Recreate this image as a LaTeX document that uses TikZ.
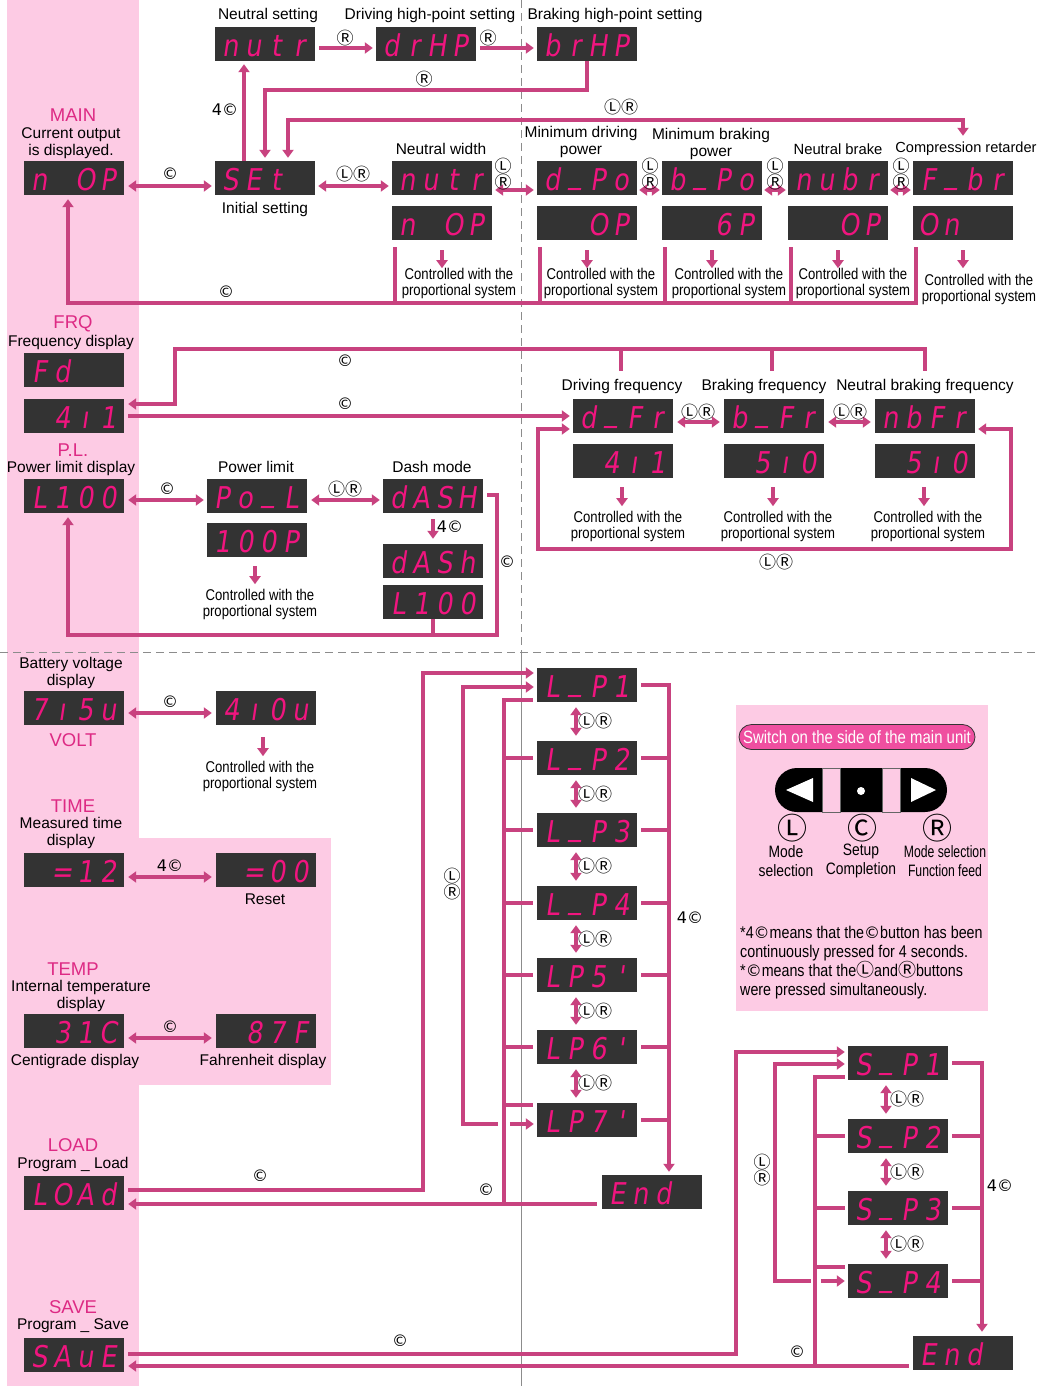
\documentclass[tikz,border=0pt]{standalone}
\usepackage{fontspec}
\setmainfont{Liberation Sans}
\newfontfamily\narrowf[FakeStretch=0.84]{Liberation Sans}
\newfontfamily\narrowerf[FakeStretch=0.74]{Liberation Sans}
\newfontfamily\symf{DejaVu Sans}
\newfontfamily\circf{Noto Sans CJK JP}
\newfontfamily\segf[FakeSlant=0.15,FakeStretch=0.85]{DejaVu Sans}
\usetikzlibrary{arrows.meta,calc}
\definecolor{pinkbg}{HTML}{FDCBE4}
\definecolor{lc}{HTML}{C8427F}
\definecolor{dbg}{HTML}{333333}
\definecolor{segc}{HTML}{F0157F}
\definecolor{ttlc}{HTML}{DD2A84}
\definecolor{pillc}{HTML}{EF4FA0}
\newcommand\dg[4]{\makebox[23pt]{#1}\makebox[23pt]{#2}\makebox[23pt]{#3}\makebox[23pt]{#4}}
\newcommand\us{\raisebox{0.22em}{\_}}
\newcommand\Lc{{\circf\fontsize{17}{13}\selectfont Ⓛ}}
\newcommand\Rc{{\circf\fontsize{17}{13}\selectfont Ⓡ}}
\newcommand\sy[1]{{\symf\fontsize{16}{14}\selectfont #1}}
\newcommand\syc[1]{{\circf\fontsize{18}{14}\selectfont #1}}
\pgfdeclarelayer{bg}
\pgfsetlayers{bg,main}
\begin{document}
\begin{tikzpicture}[x=1pt,y=-1pt,
  disp/.style={fill=dbg, minimum width=100pt, minimum height=34pt, inner sep=0pt, text=segc,
    font=\segf\fontsize{30}{30}\selectfont, text height=26pt, text depth=1pt},
  lbl/.style={font=\fontsize{15.5}{17}\selectfont, inner sep=0pt, align=center},
  ttl/.style={font=\fontsize{18.5}{18.5}\selectfont, text=ttlc, inner sep=0pt},
  ctl/.style={font=\narrowf\fontsize{15.6}{16}\selectfont, inner sep=0pt, align=center},
  key/.style={font=\symf\fontsize{16}{13}\selectfont, inner sep=0pt, align=center},
  conn/.style={draw=lc, line width=4pt},
  arr/.style={conn, -{Triangle[length=8pt,width=11pt]}},
  darr/.style={conn, {Triangle[length=8pt,width=11pt]}-{Triangle[length=8pt,width=11pt]}},
  larr/.style={conn, {Triangle[length=8pt,width=11pt]}-}
]
\useasboundingbox (0,0) rectangle (1039,1386);

% ---------------- nodes: top section
\node[disp] (nutrS) at (265,44) {\dg{n}{u}{t}{r}};
\node[disp] (drhp) at (426,44) {\dg{d}{r}{H}{P}};
\node[disp] (brhp) at (587,44) {\dg{b}{r}{H}{P}};
\node[lbl] (lNS) at (268,15) {Neutral setting};
\node[lbl] (lDH) at (430,15) {Driving high-point setting};
\node[lbl] (lBH) at (615,15) {Braking high-point setting};

\node[ttl] (tMain) at (73,115) {MAIN};
\node[lbl] (lMain) at (71,143) {Current output\\is displayed.};
\node[disp] (mainD) at (74,178) {\dg{n}{}{O}{P}};
\node[disp] (setD) at (265,178) {\dg{S}{E}{t}{}};
\node[lbl] (lInit) at (265,209) {Initial setting};

\node[lbl] (lNW) at (441,149) {Neutral width};
\node[disp] (nw1) at (442,178) {\dg{n}{u}{t}{r}};
\node[disp] (nw2) at (442,223) {\dg{n}{}{O}{P}};
\node[lbl] (lMD) at (581,142) {Minimum driving\\power};
\node[disp] (mdp1) at (587,178) {\dg{d}{\us}{P}{o}};
\node[disp] (mdp2) at (587,223) {\dg{}{}{O}{P}};
\node[lbl] (lMB) at (711,144) {Minimum braking\\power};
\node[disp] (mbp1) at (712,178) {\dg{b}{\us}{P}{o}};
\node[disp] (mbp2) at (712,223) {\dg{}{}{6}{P}};
\node[lbl, font=\fontsize{14.8}{16}\selectfont] (lNB) at (838,149) {Neutral brake};
\node[disp] (nb1) at (838,178) {\dg{n}{u}{b}{r}};
\node[disp] (nb2) at (838,223) {\dg{}{}{O}{P}};
\node[lbl, font=\fontsize{14.6}{16}\selectfont] (lCR) at (966,149) {Compression retarder};
\node[disp] (cr1) at (963,178) {\dg{F}{\us}{b}{r}};
\node[disp] (cr2) at (963,223) {\dg{O}{n}{}{}};

\node[ctl] (c1t) at (459,283) {Controlled with the\\proportional system};
\node[ctl] (c2t) at (601,283) {Controlled with the\\proportional system};
\node[ctl] (c3t) at (729,283) {Controlled with the\\proportional system};
\node[ctl] (c4t) at (853,283) {Controlled with the\\proportional system};
\node[ctl] (c5t) at (979,289) {Controlled with the\\proportional system};

% ---------------- FRQ
\node[ttl] (tFRQ) at (73,324) {FRQ};
\node[lbl] (lFRQ) at (71,342) {Frequency display};
\node[disp] (fdD) at (74,370) {\dg{F}{d}{}{}};
\node[disp] (f41) at (74,416) {\dg{}{4}{ı}{1}};
\node[lbl] (dfrL) at (622,386) {Driving frequency};
\node[lbl] (bfrL) at (764,386) {Braking frequency};
\node[lbl] (nbfL) at (925,386) {Neutral braking frequency};
\node[disp] (dfr1) at (623,416) {\dg{d}{\us}{F}{r}};
\node[disp] (dfr2) at (623,461) {\dg{}{4}{ı}{1}};
\node[disp] (bfr1) at (774,416) {\dg{b}{\us}{F}{r}};
\node[disp] (bfr2) at (774,461) {\dg{}{5}{ı}{0}};
\node[disp] (nbf1) at (925,416) {\dg{n}{b}{F}{r}};
\node[disp] (nbf2) at (925,461) {\dg{}{5}{ı}{0}};
\node[ctl] (c6t) at (628,526) {Controlled with the\\proportional system};
\node[ctl] (c7t) at (778,526) {Controlled with the\\proportional system};
\node[ctl] (c8t) at (928,526) {Controlled with the\\proportional system};

% ---------------- P.L.
\node[ttl] (tPL) at (73,450) {P.L.};
\node[lbl] (lPL) at (71,468) {Power limit display};
\node[disp] (pl1) at (74,496) {\dg{L}{1}{0}{0}};
\node[lbl] (lPow) at (256,467) {Power limit};
\node[disp] (pol) at (257,496) {\dg{P}{o}{\us}{L}};
\node[disp] (p100) at (257,540) {\dg{1}{0}{0}{P}};
\node[ctl] (c9t) at (260,604) {Controlled with the\\proportional system};
\node[lbl] (lDash) at (432,467) {Dash mode};
\node[disp] (dash1) at (433,496) {\dg{d}{A}{S}{H}};
\node[disp] (dash2) at (433,561) {\dg{d}{A}{S}{h}};
\node[disp] (dash3) at (433,602) {\dg{L}{1}{0}{0}};

% ---------------- lower left
\node[lbl] (lBat) at (71,673) {Battery voltage\\display};
\node[disp] (v1) at (74,708) {\dg{7}{ı}{5}{u}};
\node[disp] (v2) at (266,708) {\dg{4}{ı}{0}{u}};
\node[ttl] (tVolt) at (73,740) {VOLT};
\node[ctl] (c10t) at (260,776) {Controlled with the\\proportional system};
\node[ttl] (tTime) at (73,806) {TIME};
\node[lbl] (lTime) at (71,833) {Measured time\\display};
\node[disp] (t1) at (74,870) {\dg{}{=}{1}{2}};
\node[disp] (t2) at (266,870) {\dg{}{=}{0}{0}};
\node[lbl] (lReset) at (265,899) {Reset};
\node[ttl] (tTemp) at (73,969) {TEMP};
\node[lbl] (lTemp) at (81,996) {Internal temperature\\display};
\node[disp] (cd1) at (74,1031) {\dg{}{3}{1}{C}};
\node[disp] (cd2) at (266,1031) {\dg{}{8}{7}{F}};
\node[lbl] (lCen) at (75,1061) {Centigrade display};
\node[lbl] (lFah) at (263,1061) {Fahrenheit display};
\node[ttl] (tLoad) at (73,1145) {LOAD};
\node[lbl] (lLoad) at (73,1164) {Program \_ Load};
\node[disp] (ld) at (74,1193) {\dg{L}{O}{A}{d}};
\node[ttl] (tSave) at (73,1307) {SAVE};
\node[lbl] (lSave) at (73,1326) {Program \_ Save};
\node[disp] (sv) at (74,1355) {\dg{S}{A}{u}{E}};

% ---------------- L_P column
\node[disp] (lp1) at (587,685) {\dg{L}{\us}{P}{1}};
\node[disp] (lp2) at (587,758) {\dg{L}{\us}{P}{2}};
\node[disp] (lp3) at (587,830) {\dg{L}{\us}{P}{3}};
\node[disp] (lp4) at (587,903) {\dg{L}{\us}{P}{4}};
\node[disp] (lp5) at (587,975) {\dg{L}{P}{5}{'}};
\node[disp] (lp6) at (587,1047) {\dg{L}{P}{6}{'}};
\node[disp] (lp7) at (587,1120) {\dg{L}{P}{7}{'}};
\node[disp] (end1) at (652,1192) {\dg{E}{n}{d}{}};

% ---------------- S_P column
\node[disp] (sp1) at (898,1063) {\dg{S}{\us}{P}{1}};
\node[disp] (sp2) at (898,1136) {\dg{S}{\us}{P}{2}};
\node[disp] (sp3) at (898,1208) {\dg{S}{\us}{P}{3}};
\node[disp] (sp4) at (898,1281) {\dg{S}{\us}{P}{4}};
\node[disp] (end2) at (963,1353) {\dg{E}{n}{d}{}};

% ---------------- backgrounds
\begin{pgfonlayer}{bg}
\fill[pinkbg] (7,0) rectangle (139,1386);
\fill[pinkbg] (139,838) rectangle (331,1085);
\fill[pinkbg] (736,705) rectangle (988,1011);
\draw[black!45, line width=1pt, dash pattern=on 8pt off 5pt] (521,0) -- (521,652);
\draw[black!45, line width=1pt] (521,652) -- (521,1386);
\draw[black!45, line width=1pt, dash pattern=on 8pt off 5pt] (0,652) -- (1039,652);
\end{pgfonlayer}

% ---------------- connectors: top
\draw[arr] ($(nutrS.east)+(4,4)$) -- ($(drhp.west)+(-3,4)$);
\node[key] (k1) at (345,38) {\Rc};
\draw[arr] ($(drhp.east)+(4,4)$) -- ($(brhp.west)+(-3,4)$);
\node[key] (k2) at (488,38) {\Rc};
\draw[arr] (brhp.south) -- ++(0,29) -| ($(setD.north)+(0,-3)$);
\node[key] (k3) at (424,79) {\Rc};
\draw[darr] ($(setD.north)+(23,-3)$) |- ($(cr1.north)+(0,-41)$) -- ($(cr1.north)+(0,-25)$);
\node[key] (k4) at (621,107) {\Lc\Rc};
\draw[arr] ($(setD.north)+(-21,0)$) -- ($(nutrS.south)+(-21,3)$);
\node[key] (k5) at (225,110) {4©};
\draw[darr] ($(mainD.east)+(4,8)$) -- ($(setD.west)+(-3,8)$);
\node[key] (k6) at (170,174) {©};
\draw[darr] ($(setD.east)+(3,8)$) -- ($(nw1.west)+(-3,8)$);
\node[key] (k7) at (353,174) {\Lc\Rc};
\draw[darr] ($(nw1.east)+(3,12)$) -- ($(mdp1.west)+(-3,12)$);
\node[key] (k8) at (503,174) {\Lc\\\Rc};
\draw[darr] ($(mdp1.east)+(2,12)$) -- ($(mbp1.west)+(-2,12)$);
\node[key] (k9) at (650,174) {\Lc\\\Rc};
\draw[darr] ($(mbp1.east)+(2,12)$) -- ($(nb1.west)+(-2,12)$);
\node[key] (k10) at (775,174) {\Lc\\\Rc};
\draw[darr] ($(nb1.east)+(2,12)$) -- ($(cr1.west)+(-2,12)$);
\node[key] (k11) at (901,174) {\Lc\\\Rc};
\foreach \p in {nw2,mdp2,mbp2,nb2,cr2}{
  \draw[arr] ($(\p.south)+(0,10)$) -- ++(0,18);
}
\draw[arr] ($(cr2.south west)+(3,7)$) |- ($(mainD.south)+(-6,108)$) -- ($(mainD.south)+(-6,4)$);
\foreach \p in {nw2,mdp2,mbp2,nb2}{
  \draw[conn] ($(\p.south west)+(3,7)$) -- ++(0,56);
}
\node[key] (k12) at (226,292) {©};

% ---------------- connectors: FRQ
\coordinate (fq1) at (175,349);
\draw[arr] ($(nbf1.north)+(0,-28)$) |- (fq1) |- ($(f41.east)+(4,-12)$);
\draw[conn] ($(dfr1.north)+(-2,-28)$) -- ++(0,-22);
\draw[conn] ($(bfr1.north)+(-2,-28)$) -- ++(0,-22);
\node[key] (k13) at (345,361) {©};
\draw[arr] ($(f41.east)+(4,0)$) -- ($(dfr1.west)+(-3,0)$);
\node[key] (k14) at (345,404) {©};
\draw[darr] ($(dfr1.east)+(4,6)$) -- ($(bfr1.west)+(-4,6)$);
\node[key] (k15) at (698,412) {\Lc\Rc};
\draw[darr] ($(bfr1.east)+(4,6)$) -- ($(nbf1.west)+(-4,6)$);
\node[key] (k16) at (850,412) {\Lc\Rc};
\draw[darr] ($(dfr1.west)+(-3,13)$) -- ($(dfr1.west)+(-35,13)$) |- (1011,549) |- ($(nbf1.east)+(3,13)$);
\node[key] (k17) at (776,562) {\Lc\Rc};
\foreach \p in {dfr2,bfr2,nbf2}{
  \draw[arr] ($(\p.south)+(-1,9)$) -- ++(0,19);
}

% ---------------- connectors: P.L.
\draw[darr] ($(pl1.east)+(4,4)$) -- ($(pol.west)+(-3,4)$);
\node[key] (k18) at (167,489) {©};
\draw[darr] ($(pol.east)+(4,4)$) -- ($(dash1.west)+(-3,4)$);
\node[key] (k19) at (345,489) {\Lc\Rc};
\draw[arr] ($(dash1.south)+(0,6)$) -- ($(dash2.north)+(0,-5)$);
\node[key] (k20) at (450,527) {4©};
\draw[arr] ($(dash1.east)+(4,-1)$) -| (497,635) -| ($(pl1.south)+(-6,4)$);
\draw[conn] (dash3.south) -- ++(0,16);
\node[key] (k21) at (507,562) {©};
\draw[arr] ($(p100.south)+(-2,9)$) -- ++(0,18);

% ---------------- connectors: lower left
\draw[darr] ($(v1.east)+(4,5)$) -- ($(v2.west)+(-4,5)$);
\node[key] (k22) at (170,702) {©};
\draw[arr] ($(v2.south)+(-3,12)$) -- ++(0,19);
\draw[darr] ($(t1.east)+(4,7)$) -- ($(t2.west)+(-4,7)$);
\node[key] (k23) at (170,866) {4©};
\draw[darr] ($(cd1.east)+(4,7)$) -- ($(cd2.west)+(-4,7)$);
\node[key] (k24) at (170,1027) {©};

% ---------------- connectors: L_P
\foreach \a/\b in {lp1/lp2,lp2/lp3,lp3/lp4,lp4/lp5,lp5/lp6,lp6/lp7}{
  \draw[darr] ($(\a.south)+(-11,5)$) -- ($(\b.north)+(-11,-5)$);
  \node[key] (k\a) at ($(\a.south)!0.5!(\b.north)+(8,0)$) {\Lc\Rc};
}
\draw[arr] ($(lp1.east)+(4,0)$) -| ($(end1.north)+(17,-3)$);
\foreach \p in {lp2,lp3,lp4,lp5,lp6,lp7}{
  \draw[conn] ($(\p.east)+(4,0)$) -- ++(28,0);
}
\node[key] (k25) at (690,918) {4©};
\draw[conn] ($(lp1.west)+(-4,15)$) -| ($(end1.west)+(-98,12)$);
\foreach \p in {lp2,lp3,lp4,lp5,lp6}{
  \draw[conn] ($(\p.west)+(-4,0)$) -- ++(-31,0);
}
\draw[conn] ($(lp7.west)+(-4,-15)$) -- ++(-31,0);
\draw[arr] ($(end1.west)+(-5,12)$) -- ($(ld.east)+(4,11)$);
\node[key] (k26) at (486,1190) {©};
\draw[arr] ($(ld.east)+(4,-3)$) -| ($(lp1.west)+(-114,-12)$) -- ($(lp1.west)+(-3,-12)$);
\node[key] (k27) at (260,1176) {©};
\draw[larr] ($(lp1.west)+(-3,2)$) -| ($(lp7.west)+(-74,4)$) -- ($(lp7.west)+(-39,4)$);
\draw[arr] ($(lp7.west)+(-27,4)$) -- ($(lp7.west)+(-3,4)$);
\node[key] (k28) at (452,884) {\Lc\\\Rc};

% ---------------- connectors: S_P
\foreach \a/\b in {sp1/sp2,sp2/sp3,sp3/sp4}{
  \draw[darr] ($(\a.south)+(-12,5)$) -- ($(\b.north)+(-12,-5)$);
  \node[key] (k\a) at ($(\a.south)!0.5!(\b.north)+(9,0)$) {\Lc\Rc};
}
\draw[arr] ($(sp1.east)+(4,0)$) -| ($(end2.north)+(19,-4)$);
\foreach \p in {sp2,sp3,sp4}{
  \draw[conn] ($(\p.east)+(4,0)$) -- ++(30,0);
}
\node[key] (k29) at (1000,1186) {4©};
\draw[conn] ($(sp1.west)+(-3,14)$) -| ($(end2.west)+(-98,13)$);
\foreach \p in {sp2,sp3}{
  \draw[conn] ($(\p.west)+(-3,0)$) -- ++(-32,0);
}
\draw[conn] ($(sp4.west)+(-3,-14)$) -- ++(-32,0);
\draw[arr] ($(end2.west)+(-4,13)$) -- ($(sv.east)+(4,11)$);
\node[key] (k30) at (797,1352) {©};
\draw[arr] ($(sv.east)+(4,-1)$) -| ($(sp1.west)+(-112,-11)$) -- ($(sp1.west)+(-3,-11)$);
\node[key] (k31) at (400,1341) {©};
\draw[larr] ($(sp1.west)+(-3,1)$) -| ($(sp4.west)+(-73,0)$) -- ($(sp4.west)+(-37,0)$);
\draw[arr] ($(sp4.west)+(-27,0)$) -- ($(sp4.west)+(-3,0)$);
\node[key] (k32) at (762,1170) {\Lc\\\Rc};

% ---------------- legend
\node[draw=black!80, line width=0.8pt, fill=pillc, rounded corners=12.5pt, minimum width=236pt,
  minimum height=25pt, inner sep=0pt, text=white, font=\narrowf\fontsize{17.8}{18}\selectfont]
  (pillN) at (857,737) {Switch on the side of the main unit};
\fill[black, rounded corners=22pt] (775,768) rectangle (947,812);
\fill[pinkbg, draw=black!60, line width=0.6pt] (822,768) rectangle (840,812);
\fill[pinkbg, draw=black!60, line width=0.6pt] (882,768) rectangle (900,812);
\fill[white] (786,790) -- (813,778) -- (813,802) -- cycle;
\fill[white] (936,790) -- (911,778) -- (911,802) -- cycle;
\fill[white] (861,791) circle (4);
\node[font=\circf\fontsize{30}{30}\selectfont, inner sep=0pt] (bL) at (792,828) {Ⓛ};
\node[font=\circf\fontsize{30}{30}\selectfont, inner sep=0pt] (bC) at (862,828) {Ⓒ};
\node[font=\circf\fontsize{30}{30}\selectfont, inner sep=0pt] (bR) at (937,828) {Ⓡ};
\node[ctl, font=\narrowf\fontsize{16.5}{19}\selectfont] (lgL) at (786,861) {Mode\\selection};
\node[ctl, font=\narrowf\fontsize{16.5}{19}\selectfont] (lgC) at (861,861) {Setup\\Completion};
\node[ctl, font=\narrowerf\fontsize{16.5}{19}\selectfont] (lgR) at (945,861) {Mode selection\\Function feed};
\node[anchor=north west, align=left, inner sep=0pt, font=\narrowf\fontsize{17}{18.7}\selectfont]
  (note) at (740,926) {*4\sy{©}means that the\sy{©}button has been\\continuously pressed for 4 seconds.\\*\sy{©}means that the\syc{Ⓛ}and\syc{Ⓡ}buttons\\were pressed simultaneously.};
\end{tikzpicture}
\end{document}
